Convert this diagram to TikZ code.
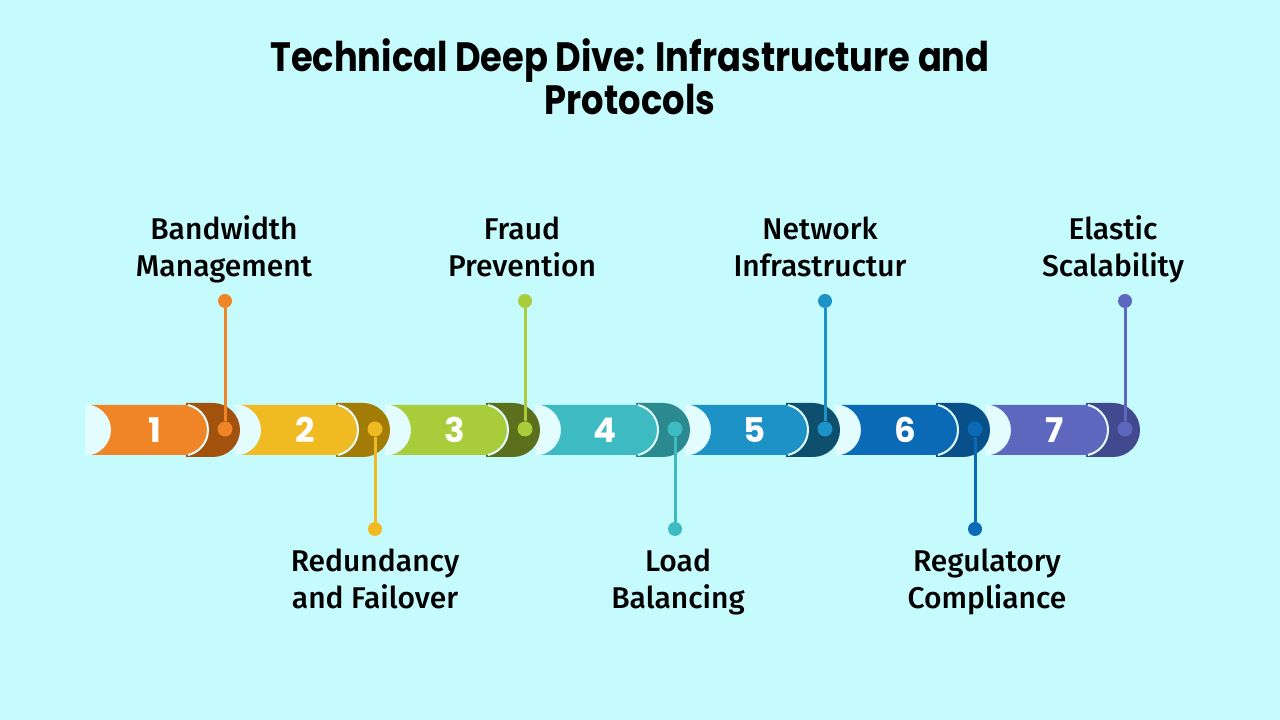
\documentclass[tikz,border=0pt]{standalone}
\usepackage{fontspec}
\setmainfont{Fira Sans}
\newfontfamily\titlefont{Poppins}[FakeStretch=0.86]
\newfontfamily\numfont{Poppins}
\newfontfamily\lblfont{Fira Sans Medium}
\definecolor{bgcyan}{HTML}{C6FBFD}
\definecolor{pale}{HTML}{E3FDFE}
\definecolor{orA}{HTML}{EF8527}\definecolor{orB}{HTML}{A3520E}
\definecolor{yeA}{HTML}{F0BA22}\definecolor{yeB}{HTML}{A27C05}
\definecolor{grA}{HTML}{A8CC3A}\definecolor{grB}{HTML}{5B6F1C}
\definecolor{teA}{HTML}{3EBAC2}\definecolor{teB}{HTML}{2B8A90}
\definecolor{blA}{HTML}{1C92C7}\definecolor{blB}{HTML}{0E4F6E}
\definecolor{dbA}{HTML}{0A6AB5}\definecolor{dbB}{HTML}{08508A}
\definecolor{viA}{HTML}{5E67BE}\definecolor{viB}{HTML}{424A8F}
\begin{document}
\begin{tikzpicture}[x=1pt,y=1pt,
  pics/seg/.style 2 args={code={
    \fill[pale] (-5.6,25.6) arc[start angle=90,end angle=-90,radius=25.6pt] -- cycle;
    \fill[#2] (95,27) -- (122,27) arc[start angle=90,end angle=-90,radius=27pt] -- (95,-27) -- cycle;
    \fill[#1] (0,25) -- (97,25) arc[start angle=77.4,end angle=-77.4,radius=25.6pt] -- (0,-25) arc[start angle=-77.4,end angle=77.4,radius=25.6pt] -- cycle;
    \draw[pale, line width=2pt] (97,25) arc[start angle=77.4,end angle=-77.4,radius=25.6pt];
  }},
  dot/.style={circle, fill=#1, minimum size=15pt, inner sep=0pt},
  pin/.style={circle, fill=#1, minimum size=14pt, inner sep=0pt},
  pinline/.style={draw=#1, line width=3pt},
  num/.style={font=\numfont\bfseries\fontsize{34}{34}\selectfont, text=white},
  lbl/.style={font=\lblfont\fontsize{30}{37}\selectfont, align=center,
    execute at begin node=\strut, execute at end node=\strut}]
\fill[bgcyan] (0,0) rectangle (1280,720);
\useasboundingbox (0,0) rectangle (1280,720);
\node[font=\titlefont\bfseries\fontsize{41}{43}\selectfont, align=center] (title) at (630,643) {Technical Deep Dive: Infrastructure and\\Protocols};
\pic at (991,290) {seg={viA}{viB}};
\pic at (841,290) {seg={dbA}{dbB}};
\pic at (691,290) {seg={blA}{blB}};
\pic at (541,290) {seg={teA}{teB}};
\pic at (391,290) {seg={grA}{grB}};
\pic at (241,290) {seg={yeA}{yeB}};
\pic at (91,290) {seg={orA}{orB}};
\node[num] (num1) at (155,290) {1};
\node[num] (num2) at (305,290) {2};
\node[num] (num3) at (455,290) {3};
\node[num] (num4) at (605,290) {4};
\node[num] (num5) at (755,290) {5};
\node[num] (num6) at (905,290) {6};
\node[num] (num7) at (1055,290) {7};
\node[dot=orA] (dot1) at (225,291) {};
\node[dot=yeA] (dot2) at (375,291) {};
\node[dot=grA] (dot3) at (525,291) {};
\node[dot=teA] (dot4) at (675,291) {};
\node[dot=blA] (dot5) at (825,291) {};
\node[dot=dbA] (dot6) at (975,291) {};
\node[dot=viA] (dot7) at (1125,291) {};
\node[pin=orA] (pin1) at (225,419) {};
\node[pin=yeA] (pin2) at (375,191) {};
\node[pin=grA] (pin3) at (525,419) {};
\node[pin=teA] (pin4) at (675,191) {};
\node[pin=blA] (pin5) at (825,419) {};
\node[pin=dbA] (pin6) at (975,191) {};
\node[pin=viA] (pin7) at (1125,419) {};
\draw[pinline=orA] (pin1) -- (dot1);
\draw[pinline=yeA] (pin2) -- (dot2);
\draw[pinline=grA] (pin3) -- (dot3);
\draw[pinline=teA] (pin4) -- (dot4);
\draw[pinline=blA] (pin5) -- (dot5);
\draw[pinline=dbA] (pin6) -- (dot6);
\draw[pinline=viA] (pin7) -- (dot7);
\node[lbl] (lbl1) at (224,468) {Bandwidth\\Management};
\node[lbl] (lbl2) at (375,136) {Redundancy\\and Failover};
\node[lbl] (lbl3) at (522,468) {Fraud\\Prevention};
\node[lbl] (lbl4) at (678,136) {Load\\Balancing};
\node[lbl] (lbl5) at (820,468) {Network\\Infrastructur};
\node[lbl] (lbl6) at (987,136) {Regulatory\\Compliance};
\node[lbl] (lbl7) at (1113,468) {Elastic\\Scalability};
\end{tikzpicture}
\end{document}
